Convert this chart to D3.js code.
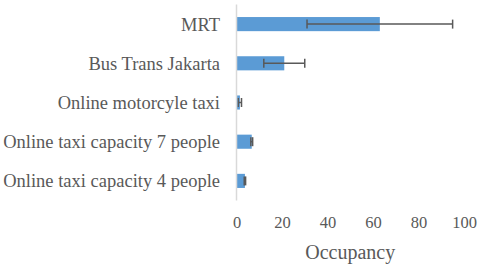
<!DOCTYPE html>
<html><head><meta charset="utf-8">
<script src="https://cdn.jsdelivr.net/npm/d3@7"></script>
<style>body{margin:0;background:#fff}svg{display:block}</style>
</head><body><svg id="c" width="480" height="266"></svg>
<script>
const categories = ["MRT","Bus Trans Jakarta","Online motorcyle taxi","Online taxi capacity 7 people","Online taxi capacity 4 people"];
const values = [63, 21, 1.5, 6.7, 3.7];
const errors = [32, 9, 0.7, 0.4, 0.3];
const xTicks = [0,20,40,60,80,100];
const xTitle = "Occupancy";

const svg = d3.select("#c");
const font = "'Liberation Serif','Times New Roman',serif";
const textCol = "#595959";
const x = d3.scaleLinear().domain([0,100]).range([236.5,464]);
const y = d3.scaleBand().domain(categories).range([4.5,200.5]).paddingInner(0.64).paddingOuter(0.32);

// bars
svg.selectAll("rect.bar").data(categories).enter().append("rect")
  .attr("x", x(0)).attr("y", d=>y(d))
  .attr("width", (d,i)=>x(values[i])-x(0)).attr("height", y.bandwidth())
  .attr("fill","#5B9BD5");

// error bars
const eg = svg.selectAll("g.err").data(categories).enter().append("g");
eg.append("line")
  .attr("x1",(d,i)=>x(values[i]-errors[i])).attr("x2",(d,i)=>x(values[i]+errors[i]))
  .attr("y1",d=>y(d)+y.bandwidth()/2).attr("y2",d=>y(d)+y.bandwidth()/2)
  .attr("stroke","#595959").attr("stroke-width",1.5);
[-1,1].forEach(s=>{
  eg.append("line")
    .attr("x1",(d,i)=>x(values[i]+s*errors[i])).attr("x2",(d,i)=>x(values[i]+s*errors[i]))
    .attr("y1",d=>y(d)+y.bandwidth()/2-4.5).attr("y2",d=>y(d)+y.bandwidth()/2+4.5)
    .attr("stroke","#595959").attr("stroke-width",1.5);
});

// vertical axis line
svg.append("line").attr("x1",x(0)).attr("x2",x(0)).attr("y1",4.5).attr("y2",200.5)
  .attr("stroke","#d9d9d9").attr("stroke-width",1.5);

// category labels
svg.selectAll("text.cat").data(categories).enter().append("text")
  .attr("x",220).attr("y",d=>y(d)+y.bandwidth()/2).attr("dy","0.35em")
  .attr("text-anchor","end").attr("font-family",font).attr("font-size",18.5)
  .attr("fill",textCol).text(d=>d);

// x tick labels
const xAxis = d3.axisBottom(x).tickValues(xTicks).tickSize(0).tickPadding(0);
const ax = svg.append("g").attr("transform","translate(0,216)").call(xAxis);
ax.select(".domain").remove();
ax.selectAll("text").attr("font-family",font).attr("font-size",16.5).attr("fill",textCol).attr("dy","0.71em");

// axis title
svg.append("text").attr("x",(x(0)+x(100))/2).attr("y",252).attr("dy","0.35em")
  .attr("text-anchor","middle").attr("font-family",font).attr("font-size",20)
  .attr("fill",textCol).text(xTitle);
</script></body></html>
